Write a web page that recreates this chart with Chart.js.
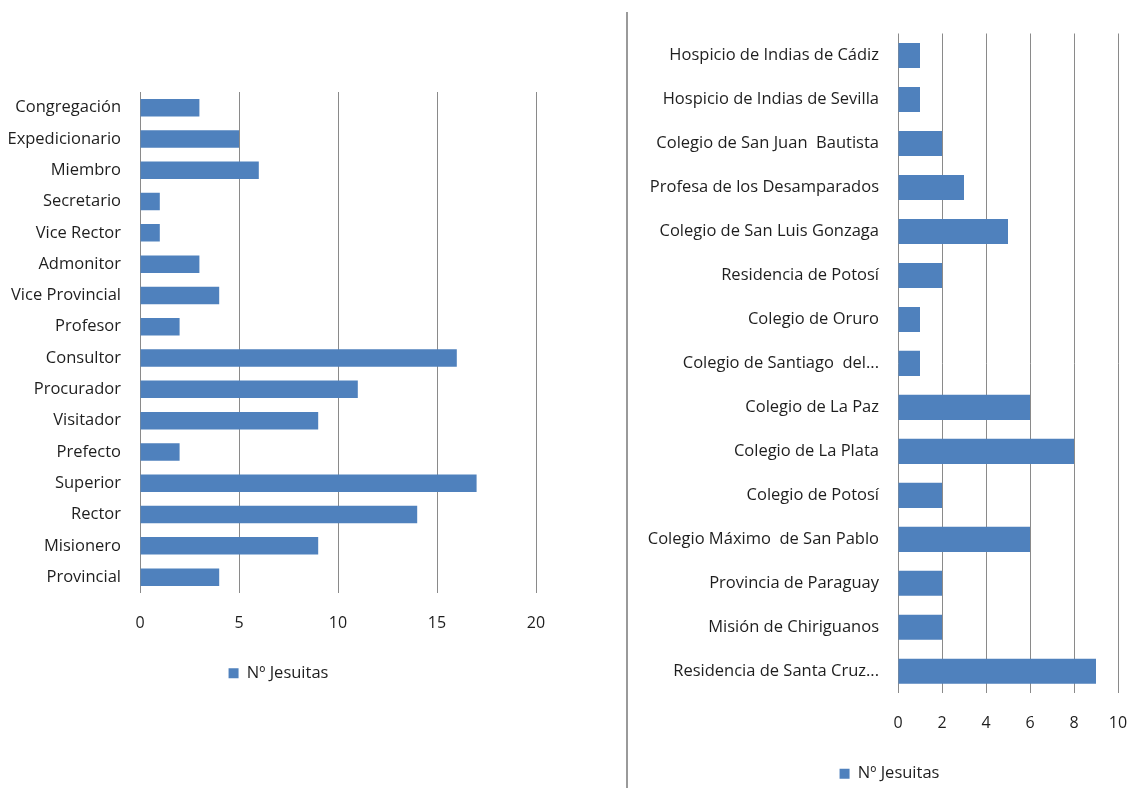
<!DOCTYPE html>
<html>
<head>
<meta charset="utf-8">
<script src="https://cdn.jsdelivr.net/npm/chart.js@4"></script>
<style>
  html, body { margin: 0; padding: 0; background: #fff; width: 1133px; height: 788px; overflow: hidden; }
  #left { position: absolute; left: 0; top: 2px; width: 556px; height: 700px; }
  #right { position: absolute; left: 645px; top: 2px; width: 488px; height: 792px; }
  #sep { position: absolute; left: 626px; top: 12px; width: 2px; height: 776px; background: #9a9a9a; }
</style>
</head>
<body>
<div id="left"><canvas id="c1"></canvas></div>
<div id="sep"></div>
<div id="right"><canvas id="c2"></canvas></div>
<script>
const seriesName = "Nº Jesuitas";

const cargoCategories = [
  "Congregación", "Expedicionario", "Miembro", "Secretario", "Vice Rector",
  "Admonitor", "Vice Provincial", "Profesor", "Consultor", "Procurador",
  "Visitador", "Prefecto", "Superior", "Rector", "Misionero", "Provincial"
];
const cargoValues = [3, 5, 6, 1, 1, 3, 4, 2, 16, 11, 9, 2, 17, 14, 9, 4];
const cargoTicks = { min: 0, max: 20, step: 5 };

const lugarCategories = [
  "Hospicio de Indias de Cádiz", "Hospicio de Indias de Sevilla",
  "Colegio de San Juan  Bautista", "Profesa de los Desamparados",
  "Colegio de San Luis Gonzaga", "Residencia de Potosí", "Colegio de Oruro",
  "Colegio de Santiago  del...", "Colegio de La Paz", "Colegio de La Plata",
  "Colegio de Potosí", "Colegio Máximo  de San Pablo", "Provincia de Paraguay",
  "Misión de Chiriguanos", "Residencia de Santa Cruz..."
];
const lugarValues = [1, 1, 2, 3, 5, 2, 1, 1, 6, 8, 2, 6, 2, 2, 9];
const lugarTicks = { min: 0, max: 10, step: 2 };

const BAR = "#4F81BD";
const GRID = "#8a8a8a";
const TEXT = "#1e1e1e";
const FONT = "'Open Sans', 'DejaVu Sans', sans-serif";

function makeChart(canvasId, cats, vals, ticks, opts) {
  return new Chart(document.getElementById(canvasId), {
    type: "bar",
    data: {
      labels: cats,
      datasets: [{
        label: seriesName,
        data: vals,
        backgroundColor: BAR,
        borderWidth: 0,
        categoryPercentage: 1,
        barPercentage: opts.barPct
      }]
    },
    plugins: [{
      id: "legendShift",
      afterLayout(chart) {
        if (chart.legend) {
          chart.legend.left += opts.legendShift;
          chart.legend.right += opts.legendShift;
        }
      }
    }],
    options: {
      indexAxis: "y",
      responsive: true,
      maintainAspectRatio: false,
      animation: false,
      layout: { padding: { top: opts.padTop, right: opts.padRight, bottom: opts.padBottom, left: 0 } },
      plugins: {
        tooltip: { enabled: false },
        legend: {
          display: true,
          position: "bottom",
          labels: {
            boxWidth: 10,
            boxHeight: 10,
            padding: opts.legendPad,
            color: TEXT,
            font: { family: FONT, size: 16.5 }
          }
        }
      },
      scales: {
        x: {
          min: ticks.min,
          max: ticks.max,
          ticks: { stepSize: ticks.step, padding: 0, color: TEXT, font: { family: FONT, size: 16 } },
          grid: { display: true, color: GRID, lineWidth: 1, drawTicks: true, tickLength: 21, tickColor: "rgba(0,0,0,0)" },
          border: { display: false }
        },
        y: {
          ticks: { padding: 19, color: TEXT, font: { family: FONT, size: 16.5 }, autoSkip: false },
          grid: { display: false, drawTicks: false },
          border: { display: false },
          afterFit: function (scale) { scale.width = opts.yWidth; }
        }
      }
    }
  });
}

makeChart("c1", cargoCategories, cargoValues, cargoTicks, {
  barPct: 0.56, padTop: 90, padRight: 20, padBottom: 10.5, legendPad: 32, yWidth: 140, legendShift: 10.5
});
makeChart("c2", lugarCategories, lugarValues, lugarTicks, {
  barPct: 0.57, padTop: 31.5, padRight: 15, padBottom: 2, legendPad: 32, yWidth: 253, legendShift: 8
});
</script>
</body>
</html>
